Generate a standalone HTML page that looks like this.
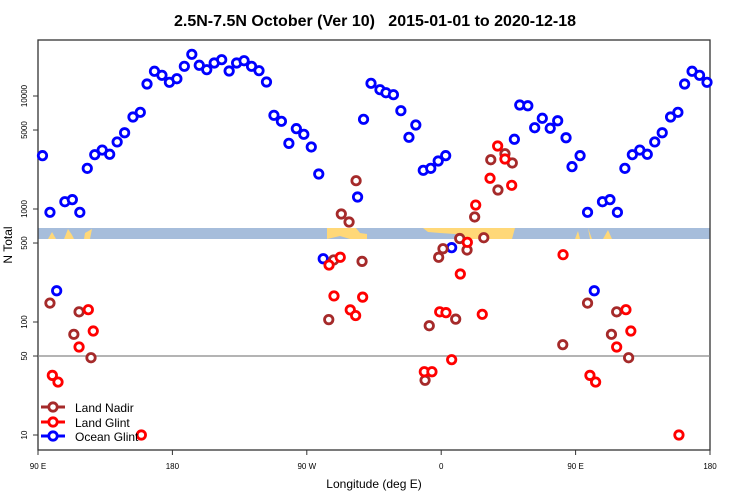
<!DOCTYPE html>
<html><head><meta charset="utf-8"><style>
body{margin:0;background:#fff;}
svg{display:block;font-family:"Liberation Sans",sans-serif;}
</style></head><body>
<svg id="chart" width="750" height="500">
<text x="375" y="26" text-anchor="middle" font-size="16" font-weight="bold" style="white-space:pre">2.5N-7.5N October (Ver 10)   2015-01-01 to 2020-12-18</text>
<g>
<rect x="38" y="228" width="672" height="11" fill="#a6bddb"/>
<polygon points="48,239 52,232 56,239" fill="#ffd878"/>
<polygon points="64,239 68,229 72,235 74,239" fill="#ffd878"/>
<polygon points="85,233 92,229 90,239 84,239" fill="#ffd878"/>
<polygon points="327,228 356,228 360,233 367,234 367,239 350,239 340,236 327,239" fill="#ffd878"/>
<polygon points="423,228 515,228 512,239 470,239 455,234 440,233 428,232" fill="#ffd878"/>
<polygon points="575,239 578,231 580,239" fill="#ffd878"/>
<polygon points="588,228 592,239 590,239" fill="#ffd878"/>
<polygon points="603,239 608,230 612,239" fill="#ffd878"/>
</g>
<g id="axes"></g>
<g id="marks"></g>
<g>
<g><line x1="41" y1="407" x2="65" y2="407" stroke="#a52a2a" stroke-width="3"/><circle cx="53" cy="407" r="4.2" fill="#fff" stroke="#a52a2a" stroke-width="2.8"/><text x="75" y="412" font-size="12">Land Nadir</text></g>
<g><line x1="41" y1="422" x2="65" y2="422" stroke="#ff0000" stroke-width="3"/><circle cx="53" cy="422" r="4.2" fill="#fff" stroke="#ff0000" stroke-width="2.8"/><text x="75" y="427" font-size="12">Land Glint</text></g>
<g><line x1="41" y1="436" x2="65" y2="436" stroke="#0000ff" stroke-width="3"/><circle cx="53" cy="436" r="4.2" fill="#fff" stroke="#0000ff" stroke-width="2.8"/><text x="75" y="441" font-size="12">Ocean Glint</text></g>
</g>
</svg>
<script>
const yTicks=[10,50,100,500,1000,5000,10000];
const xTickLon=[90,180,270,360,450,540];
const xTickLabels=["90 E","180","90 W","0","90 E","180"];
const oceanLon=[93,98,102.5,108,113,118,123,128,133,138,143,148,153.6,158.5,163,168,173,178,-177,-172,-167,-162,-157,-152,-147,-142,-137,-132,-127,-122,-117,-112,-107,-102,-97,-92,-87,-82,-79,-56,-52,-47,-41,-37,-32,-27,-21.6,-17,-12,-7,-2,3,7,49,52.6,58,62.6,67.7,73,78,83.6,87.6];
const oceanVal=[2965,935,189,1160,1210,934,2290,3025,3325,3050,3920,4730,6520,7170,12770,16550,15250,13220,14220,18320,23390,18700,17100,19590,20950,16640,19590,20520,18320,16750,13300,6750,5970,3810,5140,4580,3540,2040,363,1277,6220,12950,11370,10690,10270,7410,4310,5540,2200,2290,2660,2965,455,4140,8320,8200,5240,6350,5180,6040,4270,2370];
const nadirLon=[98,114,117.5,125.5,-75.3,-72,-66.9,-61.7,-57,-53,-10.8,-8,-1.7,1.2,9.7,12.4,17.3,22.4,28.5,33.2,38,42.7,47.6,81.4];
const nadirVal=[147,77.8,123,48.3,105,354,903,767,1780,344,30.5,92.7,374,445,106,548,434,850,557,2730,1473,3085,2555,63];
const glintLon=[99.6,103.4,117.5,123.7,127,159.2,-75.1,-71.8,-67.6,-60.9,-57.3,-52.6,-11.3,-6.2,-1,3.2,7,12.8,17.5,23.1,27.5,32.7,37.8,42.7,47.2,81.6];
const glintVal=[33.7,29.4,60.1,128.5,83.2,10,319,170,374,128,114,166,36.3,36.3,123,121,46.4,266,507,1084,117,1870,3610,2770,1620,394];

const X0=38,X1=710,Y0=40,Y1=450;
const xs=l=>X0+(l-90)*(X1-X0)/450;
const ys=v=>435-113*(Math.log10(v)-1);
const NS="http://www.w3.org/2000/svg";
function mk(t,a,p){const e=document.createElementNS(NS,t);for(const k in a)e.setAttribute(k,a[k]);p.appendChild(e);return e;}
const axes=document.getElementById('axes');
const frame=mk('rect',{x:X0,y:Y0,width:X1-X0,height:Y1-Y0,fill:'none',stroke:'#333','stroke-width':1.3},axes);


const ref=mk('line',{x1:X0,x2:X1,y1:ys(50),y2:ys(50),stroke:'#888','stroke-width':1.3},axes);


yTicks.forEach(v=>{const y=ys(v);
 mk('line',{x1:X0-5,x2:X0,y1:y,y2:y,stroke:'#333'},axes);
 const t=mk('text',{x:27,y:y,'font-size':8,'text-anchor':'middle',transform:`rotate(-90 27 ${y})`},axes);t.textContent=v;
 
 
});
xTickLon.forEach((l,i)=>{const x=xs(l);
 mk('line',{x1:x,x2:x,y1:Y1,y2:Y1+5,stroke:'#333'},axes);
 const t=mk('text',{x:x,y:469,'font-size':8,'text-anchor':'middle'},axes);t.textContent=xTickLabels[i];
 
 
});
const xt=mk('text',{x:374,y:488,'font-size':12,'text-anchor':'middle'},axes);xt.textContent='Longitude (deg E)';


const yt=mk('text',{x:12,y:245,'font-size':12,'text-anchor':'middle',transform:'rotate(-90 12 245)'},axes);yt.textContent='N Total';



const marks=document.getElementById('marks');
function series(lons,vals,color,name){
 lons.forEach((lon,i)=>{
  const L=lon<90?lon+360:lon;
  const pos=[L];if(L<=180)pos.push(L+360);
  pos.forEach(p=>{
   const c=mk('circle',{cx:xs(p),cy:ys(vals[i]),r:4.2,fill:'#fff',stroke:color,'stroke-width':2.8},marks);
   
   
  });
 });
}
series(oceanLon,oceanVal,'#0000ff','ocean-glint-point');
series(nadirLon,nadirVal,'#a52a2a','land-nadir-point');
series(glintLon,glintVal,'#ff0000','land-glint-point');
</script>
</body></html>
